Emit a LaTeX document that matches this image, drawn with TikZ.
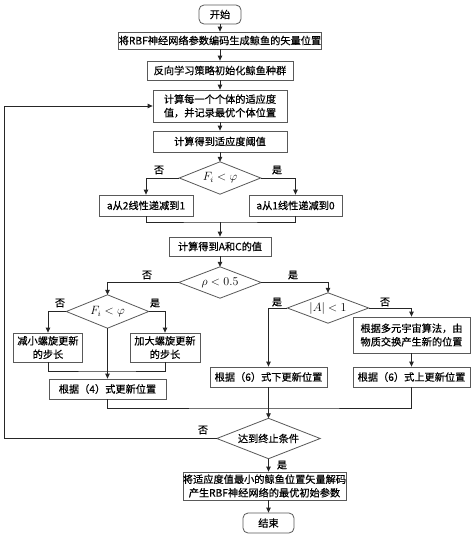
\documentclass[tikz,border=0pt]{standalone}
\usepackage{fontspec}
\setmainfont[FakeBold=0.5]{Noto Sans CJK SC}
\usetikzlibrary{arrows.meta}
\begin{document}
\begin{tikzpicture}[x=1pt,y=1pt,
  font=\fontsize{10.2}{13.5}\selectfont,
  box/.style={draw=black!65,line width=0.8pt,rectangle,inner sep=0pt,align=center,fill=white},
  rbox/.style={box,rounded corners=5pt},
  dia/.style={rectangle,inner sep=0pt,font=\fontsize{12}{14}\selectfont},
  diaedge/.style={draw=black!65,line width=0.8pt},
  line/.style={draw=black!85,line width=0.8pt},
  arr/.style={line,-{Triangle[length=5pt,width=4.5pt]}},
  lab/.style={inner sep=0pt,font=\fontsize{10}{12}\selectfont}]
\useasboundingbox[fill=white] (0,0) rectangle (474,-538);

% nodes
\node[rbox,minimum width=42pt,minimum height=19pt] (start) at (220,-14.5) {开始};
\node[box,minimum width=200pt,minimum height=17pt] (n1) at (220,-40.5) {将RBF神经网络参数编码生成鲸鱼的矢量位置};
\node[box,minimum width=146pt,minimum height=19pt] (n2) at (220,-70.5) {反向学习策略初始化鲸鱼种群};
\node[box,minimum width=134pt,minimum height=32pt] (n3) at (220,-106) {计算每一个个体的适应度\\值，并记录最优个体位置};
\node[box,minimum width=134pt,minimum height=21pt] (n4) at (220,-141.5) {计算得到适应度阈值};
\node[dia,minimum width=81pt,minimum height=32pt] (d1) at (220,-178) {$F_i<\varphi$};
\node[box,minimum width=94pt,minimum height=21pt] (n5L) at (146,-205.5) {a从2线性递减到1};
\node[box,minimum width=93pt,minimum height=21pt] (n5R) at (295.5,-205.5) {a从1线性递减到0};
\coordinate (m1) at (220,-222);
\node[box,minimum width=102pt,minimum height=19pt] (n6) at (220,-246.5) {计算得到A和C的值};
\node[dia,minimum width=82pt,minimum height=31pt] (d2) at (220,-282.5) {$\rho<0.5$};
\node[dia,minimum width=82pt,minimum height=33pt] (d3) at (107.5,-311.5) {$F_i<\varphi$};
\node[dia,minimum width=81pt,minimum height=30pt] (d4) at (328,-308) {$\left|A\right|<1$};
\node[box,minimum width=69pt,minimum height=29pt] (bdec) at (48,-347.5) {减小螺旋更新\\的步长};
\node[box,minimum width=70pt,minimum height=29pt] (binc) at (165,-347.5) {加大螺旋更新\\的步长};
\coordinate (m2) at (107.5,-371);
\node[box,minimum width=117pt,minimum height=20pt] (b4) at (107.5,-389) {根据（4）式更新位置};
\node[box,minimum width=117pt,minimum height=20pt] (b6d) at (268.5,-377) {根据（6）式下更新位置};
\node[box,minimum width=117pt,minimum height=36pt] (bmv) at (411.5,-335) {根据多元宇宙算法，由\\物质交换产生新的位置};
\node[box,minimum width=117pt,minimum height=20pt] (b6u) at (411.5,-377) {根据（6）式上更新位置};
\coordinate (m3) at (268.5,-408);
\node[dia,minimum width=103pt,minimum height=40pt,font=\fontsize{10.2}{13.5}\selectfont] (d5) at (268.5,-438.5) {达到终止条件};
\coordinate (fb) at (4,-438.5);
\node[box,minimum width=161pt,minimum height=28pt] (bend) at (264.5,-486) {将适应度值最小的鲸鱼位置矢量解码\\产生RBF神经网络的最优初始参数};
\node[rbox,minimum width=51pt,minimum height=20pt] (end) at (268.5,-523) {结束};

% diamond outlines
\foreach \d in {d1,d2,d3,d4,d5}{
  \draw[diaedge] (\d.north) -- (\d.east) -- (\d.south) -- (\d.west) -- cycle;
}

% connectors
\draw[arr] (start) -- (n1);
\draw[arr] (n1) -- (n2);
\draw[arr] (n2) -- (n3);
\draw[arr] (n3) -- (n4);
\draw[arr] (n4) -- (d1);
\draw[arr] (d1.west) -| (n5L.north);
\draw[arr] (d1.east) -| (n5R.north);
\draw[line] (n5L.south) |- (m1) -| (n5R.south);
\draw[arr] (m1) -- (n6);
\draw[arr] (n6) -- (d2);
\draw[arr] (d2.west) -| (d3.north);
\draw[arr] (d2.east) -| (d4.north);
\draw[arr] (d3.west) -| (bdec.north);
\draw[arr] (d3.east) -| (binc.north);
\draw[line] (bdec.south) |- (m2) -| (binc.south);
\draw[arr] (d3.south) -- (b4.north);
\draw[arr] (d4.west) -| (b6d.north);
\draw[arr] (d4.east) -| (bmv.north);
\draw[arr] (bmv) -- (b6u);
\draw[line] (b4.south) |- (m3) -| (b6u.south);
\draw[arr] (b6d.south) -- (d5.north);
\draw[arr] (d5.west) -- (fb) |- (n3.west);
\draw[arr] (d5.south) -- (d5.south |- bend.north);
\draw[arr] (bend.south -| end) -- (end.north);

% labels
\node[lab] (l1) at (159,-170) {否};
\node[lab] (l2) at (277,-170) {是};
\node[lab] (l3) at (147,-275) {否};
\node[lab] (l4) at (293,-275) {是};
\node[lab] (l5) at (60,-303) {否};
\node[lab] (l6) at (155,-303) {是};
\node[lab] (l7) at (277,-302) {是};
\node[lab] (l8) at (385,-302) {否};
\node[lab] (l9) at (203,-430) {否};
\node[lab] (l10) at (282,-465) {是};
\end{tikzpicture}
\end{document}
